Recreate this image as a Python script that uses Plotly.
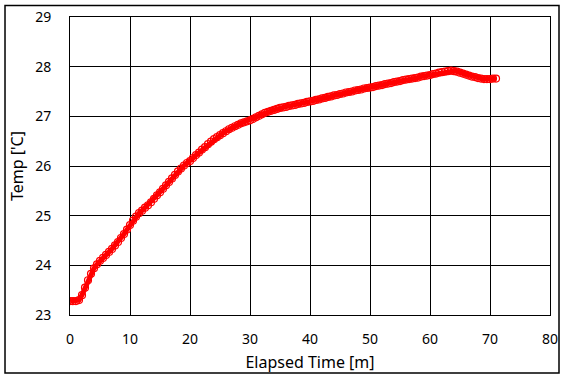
import plotly.graph_objects as go

elapsed_min = [0, 0.5, 1, 1.5, 2, 2.5, 3, 3.5, 4, 4.5, 5, 5.5, 6, 6.5, 7, 7.5, 8, 8.5, 9, 9.5,
               10, 10.5, 11, 11.5, 12, 12.5, 13, 13.5, 14, 14.5, 15, 15.5, 16, 16.5, 17, 17.5, 18, 18.5, 19, 19.5,
               20, 20.5, 21, 21.5, 22, 22.5, 23, 23.5, 24, 24.5, 25, 25.5, 26, 26.5, 27, 27.5, 28, 28.5, 29, 29.5,
               30, 30.5, 31, 31.5, 32, 32.5, 33, 33.5, 34, 34.5, 35, 35.5, 36, 36.5, 37, 37.5, 38, 38.5, 39, 39.5,
               40, 40.5, 41, 41.5, 42, 42.5, 43, 43.5, 44, 44.5, 45, 45.5, 46, 46.5, 47, 47.5, 48, 48.5, 49, 49.5,
               50, 50.5, 51, 51.5, 52, 52.5, 53, 53.5, 54, 54.5, 55, 55.5, 56, 56.5, 57, 57.5, 58, 58.5, 59, 59.5,
               60, 60.5, 61, 61.5, 62, 62.5, 63, 63.5, 64, 64.5, 65, 65.5, 66, 66.5, 67, 67.5, 68, 68.5, 69, 69.5,
               70, 70.5, 71]

temp_c = [23.28, 23.28, 23.28, 23.30, 23.40, 23.55, 23.70, 23.83, 23.94, 24.02, 24.09, 24.15, 24.21, 24.27, 24.33, 24.40, 24.47, 24.55, 24.63, 24.72,
          24.81, 24.90, 24.98, 25.05, 25.10, 25.16, 25.21, 25.27, 25.34, 25.41, 25.47, 25.54, 25.61, 25.68, 25.75, 25.82, 25.89, 25.95, 26.01, 26.06,
          26.10, 26.16, 26.22, 26.27, 26.33, 26.38, 26.44, 26.49, 26.54, 26.58, 26.62, 26.66, 26.70, 26.74, 26.77, 26.80, 26.83, 26.86, 26.88, 26.90,
          26.92, 26.95, 26.98, 27.01, 27.04, 27.07, 27.09, 27.11, 27.13, 27.15, 27.17, 27.18, 27.19, 27.21, 27.22, 27.23, 27.25, 27.26, 27.27, 27.29,
          27.30, 27.31, 27.33, 27.34, 27.36, 27.37, 27.39, 27.40, 27.42, 27.43, 27.45, 27.46, 27.48, 27.49, 27.50, 27.52, 27.53, 27.54, 27.56, 27.57,
          27.58, 27.59, 27.61, 27.62, 27.63, 27.65, 27.66, 27.67, 27.69, 27.70, 27.71, 27.73, 27.74, 27.75, 27.76, 27.77, 27.78, 27.80, 27.81, 27.82,
          27.83, 27.85, 27.86, 27.88, 27.89, 27.90, 27.91, 27.92, 27.91, 27.90, 27.88, 27.86, 27.84, 27.82, 27.80, 27.79, 27.77, 27.76, 27.75, 27.75,
          27.75, 27.76, 27.76]

x_ticks = [0, 10, 20, 30, 40, 50, 60, 70, 80]
y_ticks = [23, 24, 25, 26, 27, 28, 29]

FONT = "Noto Sans"

fig = go.Figure()
fig.add_trace(go.Scatter(
    x=elapsed_min, y=temp_c, mode="lines+markers",
    line=dict(color="#ff0000", width=5),
    marker=dict(symbol="circle-open", size=7, color="#ff0000", line=dict(width=1.2)),
    showlegend=False,
))

axis_common = dict(
    showline=True, linecolor="black", linewidth=1, mirror=True,
    showgrid=True, gridcolor="black", gridwidth=1,
    zeroline=False, ticks="", automargin=False,
    tickfont=dict(family=FONT, size=14, color="black"),
)
fig.update_xaxes(range=[0, 80], tickvals=x_ticks, ticklabelstandoff=11,
                 title=dict(text="Elapsed Time [m]", font=dict(family=FONT, size=16, color="black"), standoff=10),
                 **axis_common)
fig.update_yaxes(range=[23, 29], tickvals=y_ticks, ticklabelstandoff=15,
                 title=dict(text="Temp ['C]", font=dict(family=FONT, size=16, color="black"), standoff=7),
                 **axis_common)

fig.add_shape(type="rect", xref="paper", yref="paper",
              x0=-0.1354, x1=1.01875, y0=-0.1943, y1=1.0385,
              line=dict(color="black", width=1.5), fillcolor="rgba(0,0,0,0)", layer="below")

fig.update_layout(
    width=567, height=379,
    margin=dict(l=70, r=17, t=16.5, b=64, autoexpand=False),
    paper_bgcolor="white", plot_bgcolor="white",
    font=dict(family=FONT),
)

fig.write_html("out.html", config={"displayModeBar": False},
               post_script="document.body.style.margin='0';document.body.style.overflow='hidden';")
